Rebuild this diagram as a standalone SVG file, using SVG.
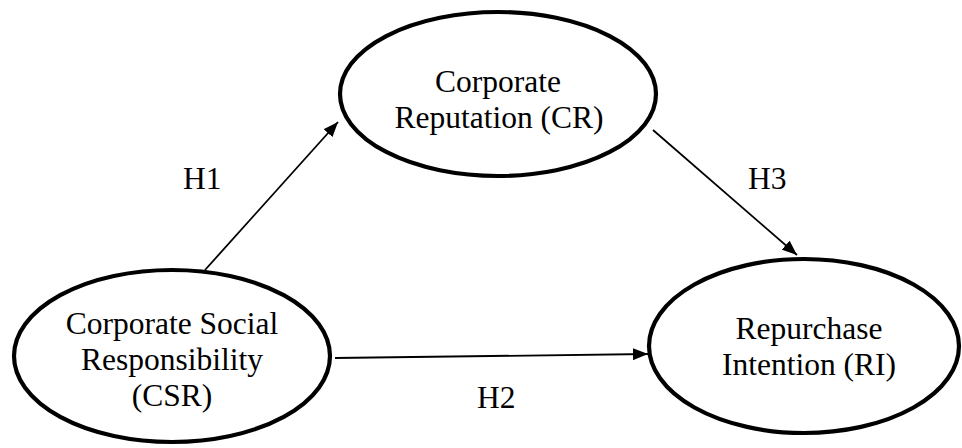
<svg xmlns="http://www.w3.org/2000/svg" width="962" height="448" viewBox="0 0 962 448">
<style>
.node{fill:#fff;stroke:#000;stroke-width:4.2}
.lbl{font-family:"Liberation Serif","Times New Roman",serif;font-size:31.5px;fill:#000;text-anchor:middle}
.hl{font-family:"Liberation Serif","Times New Roman",serif;font-size:31.5px;fill:#000}
.edge{stroke:#000;stroke-width:1.8;fill:none;marker-end:url(#arr)}
</style>
<defs>
<marker id="arr" markerUnits="userSpaceOnUse" markerWidth="16" markerHeight="12" refX="15" refY="6" orient="auto">
<path d="M0,0 L15,6 L0,12 z" fill="#000"/>
</marker>
</defs>
<rect width="962" height="448" fill="#fff"/>
<g id="connectors">
<line class="edge" x1="205" y1="270" x2="338" y2="122"/>
<line class="edge" x1="653" y1="130" x2="797" y2="255"/>
<line class="edge" x1="335" y1="358" x2="648" y2="354"/>
</g>
<g id="node-csr">
<ellipse class="node" cx="172" cy="356" rx="158" ry="86"/>
<text class="lbl" x="172" y="334">Corporate Social</text>
<text class="lbl" x="172" y="370">Responsibility</text>
<text class="lbl" x="172" y="406">(CSR)</text>
</g>
<g id="node-cr">
<ellipse class="node" cx="498" cy="94" rx="158" ry="82"/>
<text class="lbl" x="498" y="92">Corporate</text>
<text class="lbl" x="499" y="128">Reputation (CR)</text>
</g>
<g id="node-ri">
<ellipse class="node" cx="804" cy="346" rx="155" ry="87"/>
<text class="lbl" x="809" y="339">Repurchase</text>
<text class="lbl" x="809" y="375">Intention (RI)</text>
</g>
<g id="labels">
<text class="hl" x="183" y="189">H1</text>
<text class="hl" x="748" y="189">H3</text>
<text class="hl" x="477" y="408">H2</text>
</g>
</svg>
